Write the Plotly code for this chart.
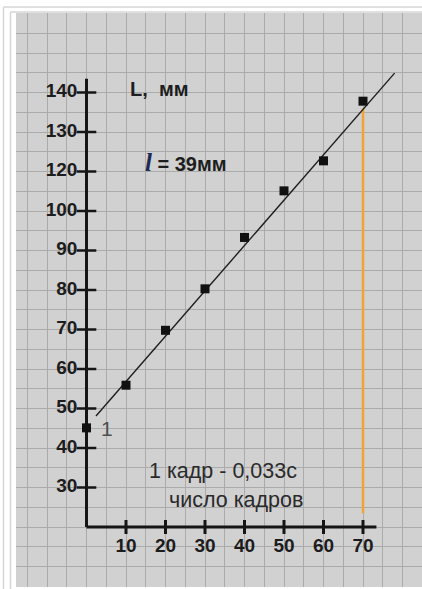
import plotly.graph_objects as go

# ---- data (y in axis-position units: ticks are equally spaced; the "110" label is absent) ----
frames = [0, 10, 20, 30, 40, 50, 60, 70]
length_pos = [45.1, 55.9, 69.8, 80.3, 93.3, 105.1, 112.7, 127.8]

fit_x = [2.4, 78.0]
fit_y = [48.1, 134.9]

marker_x = [70, 70]
marker_y = [23.5, 126.0]

y_tick_pos = [30, 40, 50, 60, 70, 80, 90, 100, 110, 120, 130]
y_tick_text = ["30", "40", "50", "60", "70", "80", "90", "100", "120", "130", "140"]
x_tick_pos = [10, 20, 30, 40, 50, 60, 70]
x_tick_text = ["10", "20", "30", "40", "50", "60", "70"]

axis_x_end = 73.4
axis_y_end = 133.5
axis_base = 20

FONT = "Liberation Sans, Arial, sans-serif"
INK = "#151515"

fig = go.Figure()

# axes lines
fig.add_trace(go.Scatter(x=[0, 0], y=[axis_base, axis_y_end], mode="lines",
                         line=dict(color=INK, width=3), hoverinfo="skip"))
fig.add_trace(go.Scatter(x=[0, axis_x_end], y=[axis_base, axis_base], mode="lines",
                         line=dict(color=INK, width=3), hoverinfo="skip"))

# tick marks
fig.add_trace(go.Scatter(x=[0] * len(y_tick_pos), y=y_tick_pos, mode="markers",
                         marker=dict(symbol="line-ew", size=14, line=dict(color=INK, width=2.5)),
                         hoverinfo="skip"))
fig.add_trace(go.Scatter(x=x_tick_pos, y=[axis_base] * len(x_tick_pos), mode="markers",
                         marker=dict(symbol="line-ns", size=10, line=dict(color=INK, width=3)),
                         hoverinfo="skip"))

# tick labels
fig.add_trace(go.Scatter(x=[-2.3] * len(y_tick_pos), y=y_tick_pos, mode="text",
                         text=["<b>%s</b>" % t for t in y_tick_text], textposition="middle left",
                         textfont=dict(family=FONT, size=19, color="#1c1c1c"), hoverinfo="skip"))
fig.add_trace(go.Scatter(x=x_tick_pos, y=[15.0] * len(x_tick_pos), mode="text",
                         text=["<b>%s</b>" % t for t in x_tick_text], textposition="middle center",
                         textfont=dict(family=FONT, size=19, color="#1c1c1c"), hoverinfo="skip"))

# orange vertical line
fig.add_trace(go.Scatter(x=marker_x, y=marker_y, mode="lines",
                         line=dict(color="#f2a23a", width=2.5), hoverinfo="skip"))

# fit line
fig.add_trace(go.Scatter(x=fit_x, y=fit_y, mode="lines",
                         line=dict(color="#1e1e1e", width=1.4), hoverinfo="skip"))

# measured points
fig.add_trace(go.Scatter(x=frames, y=length_pos, mode="markers",
                         marker=dict(symbol="square", size=9, color="#111111"), hoverinfo="skip"))

annotations = [
    dict(x=10.4, y=130.8, text="<b>L,  мм</b>", xanchor="left", yanchor="middle",
         font=dict(family=FONT, size=20, color="#1e1e1e")),
    dict(x=14.2, y=112.4,
         text="<span style='font-family:Liberation Serif;font-size:25px;color:#1d2a55'><b><i>l</i></b></span><b> = 39мм</b>",
         xanchor="left", yanchor="middle", font=dict(family=FONT, size=20, color="#1e1e1e")),
    dict(x=15.3, y=34.3, text="1 кадр - 0,033с", xanchor="left", yanchor="middle",
         font=dict(family=FONT, size=21.5, color="#2a2a2a")),
    dict(x=20.3, y=26.9, text="число кадров", xanchor="left", yanchor="middle",
         font=dict(family=FONT, size=21.5, color="#2a2a2a")),
    dict(x=3.2, y=45.0, text="1", xanchor="left", yanchor="middle",
         font=dict(family=FONT, size=21, color="#505050")),
]
for a in annotations:
    a.update(showarrow=False, xref="x", yref="y")

W, H = 422, 589
ml, mr, mt, mb = 16, 0, 13, 2
pw, ph = W - ml - mr, H - mt - mb


def fx(px):
    return (px - ml) / pw


def fy(py):
    return (H - mb - py) / ph


frame_col = "#d6d6d6"
shapes = [
    dict(type="line", xref="paper", yref="paper", x0=fx(10.5), x1=fx(10.5), y0=fy(12), y1=fy(589),
         line=dict(color=frame_col, width=1.5)),
    dict(type="line", xref="paper", yref="paper", x0=fx(10.5), x1=fx(422), y0=fy(12), y1=fy(12),
         line=dict(color=frame_col, width=1.5)),
    dict(type="line", xref="paper", yref="paper", x0=fx(3.5), x1=fx(3.5), y0=fy(7), y1=fy(589),
         line=dict(color=frame_col, width=1.5)),
    dict(type="line", xref="paper", yref="paper", x0=fx(3.5), x1=fx(422), y0=fy(7), y1=fy(7),
         line=dict(color=frame_col, width=1.5)),
]

# axis ranges chosen so that 10 units = 39.5 px and the axes cross at (86.5 px, 527 px)
x0_px, y0_px, ppu = 86.5, 527.0, 3.95
x_range = [(ml - x0_px) / ppu, (W - mr - x0_px) / ppu]
y_range = [axis_base - ((H - mb) - y0_px) / ppu, axis_base + (y0_px - mt) / ppu]

fig.update_layout(
    width=W, height=H,
    margin=dict(l=ml, r=mr, t=mt, b=mb, pad=0),
    paper_bgcolor="white",
    plot_bgcolor="#d1d1d1",
    showlegend=False,
    annotations=annotations,
    shapes=shapes,
    xaxis=dict(range=x_range, tick0=0, dtick=5, showgrid=True, gridcolor="#ababab",
               gridwidth=1, zeroline=False, showticklabels=False, ticks="", showline=False,
               fixedrange=True),
    yaxis=dict(range=y_range, tick0=0, dtick=5, showgrid=True, gridcolor="#ababab",
               gridwidth=1, zeroline=False, showticklabels=False, ticks="", showline=False,
               fixedrange=True),
)

fig.write_html("out.html", config={"displayModeBar": False},
               post_script="document.body.style.margin='0';document.body.style.overflow='hidden';")
